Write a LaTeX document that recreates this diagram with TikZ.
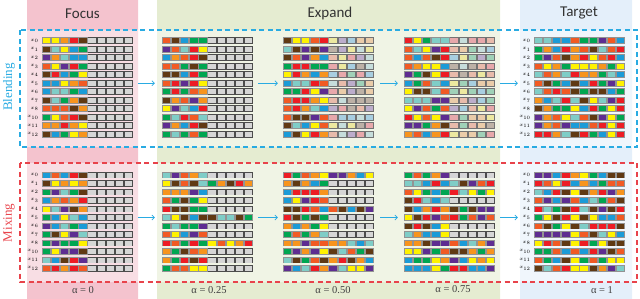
\documentclass[tikz,border=0pt]{standalone}
\usepackage{fontspec}
\setmainfont{Liberation Serif}
\newfontfamily\headfont{Carlito}
\usetikzlibrary{positioning,arrows.meta,calc}
\definecolor{pal0}{HTML}{1B9BD7}
\definecolor{pal1}{HTML}{7FCDC7}
\definecolor{pal2}{HTML}{F7941D}
\definecolor{pal3}{HTML}{FFF200}
\definecolor{pal4}{HTML}{5E2D91}
\definecolor{pal5}{HTML}{ED1C24}
\definecolor{pal6}{HTML}{00A651}
\definecolor{pal7}{HTML}{603913}
\definecolor{pal8}{HTML}{F15A24}
\definecolor{blendcol} {HTML}{29ABE2}
\definecolor{mixcol}   {HTML}{E8434B}
\definecolor{focustop} {HTML}{F4C3CE}
\definecolor{focusmid} {HTML}{FAE3E8}
\definecolor{expandtop}{HTML}{E5ECD1}
\definecolor{expandmid}{HTML}{F4F7EA}
\definecolor{targettop}{HTML}{E4EFFA}
\definecolor{targetmid}{HTML}{F1F7FD}
% one column of token bars: name, left x, top y, mask mode, counts
\newcommand\barcolumn[5]{%
  \foreach \n [count=\rw from 0] in {#5}{
    \pgfmathsetmacro\yy{#3+8.5*\rw}
    \node[barnode] (#1-\rw) at (#2+45.5,\yy) {};
    \foreach \i in {0,...,9}{
      \pgfmathrandominteger{\k}{0}{8}
      \ifnum\i<\n
        \fill[cellframe] (#2+9.1*\i,\yy-3.4) rectangle ++(9.1,6.8);
        \fill[pal\k] (#2+9.1*\i+0.9,\yy-2.5) rectangle ++(7.3,5);
      \else
        \ifnum#4=0
          \fill[maskframe] (#2+9.1*\i,\yy-3.4) rectangle ++(9.1,6.8);
          \fill[maskcell] (#2+9.1*\i+0.9,\yy-2.5) rectangle ++(7.3,5);
        \else
          \fill[tintframe] (#2+9.1*\i,\yy-3.4) rectangle ++(9.1,6.8);
          \fill[pal\k!35!white!85!gray] (#2+9.1*\i+0.9,\yy-2.5) rectangle ++(7.3,5);
        \fi
      \fi
    }
  }}
\begin{document}
\begin{tikzpicture}[x=1pt,y=-1pt,
  barnode/.style={minimum width=91pt,minimum height=7pt,inner sep=0pt},
  cellframe/.style={fill=gray!85},
  maskframe/.style={fill=black!70},
  maskcell/.style={fill=black!16},
  tintframe/.style={fill=black!55},
  rowlab/.style={font=\fontsize{5}{5}\selectfont,inner sep=0pt},
  headtxt/.style={font=\headfont\fontsize{15}{15}\selectfont,text=black!80},
  alphatxt/.style={font=\fontsize{10.5}{10.5}\selectfont,text=black!75},
  blendbox/.style={draw=blendcol,line width=1.1pt,dash pattern=on 5pt off 3.5pt,
                   fill=white,fill opacity=0.45},
  mixbox/.style={draw=mixcol,line width=1.1pt,dash pattern=on 5pt off 3.5pt,
                 fill=white,fill opacity=0.45},
  arr/.style={-{Straight Barb[length=2.5pt]},draw=blendcol,line width=0.7pt},
]
\useasboundingbox (0,0) rectangle (640,298);
\pgfmathsetseed{11}
% column bands
\shade[top color=focustop,middle color=focusmid,bottom color=focustop]
  (27,0) rectangle (138,298);
\shade[top color=expandtop,middle color=expandmid,bottom color=expandtop]
  (157,0) rectangle (500,298);
\shade[top color=targettop,middle color=targetmid,bottom color=targettop]
  (520,0) rectangle (632,298);
\node[headtxt] (hfocus)  at (82.5,14) {Focus};
\node[headtxt] (hexpand) at (330,13) {Expand};
\node[headtxt] (htarget) at (579,13) {Target};
% dashed panels
\draw[blendbox] (20,30) rectangle (637,147);
\draw[mixbox]   (20,163) rectangle (637,282);
\node[rotate=90,text=blendcol,font=\fontsize{13}{13}\selectfont] (lblend) at (9,87) {Blending};
\node[rotate=90,text=mixcol,font=\fontsize{13}{13}\selectfont] (lmix) at (9,223) {Mixing};
% blending bars
\barcolumn{b1}{42}{40.7}{0}{5,5,5,5,5,5,5,5,5,5,5,5}
\barcolumn{b2}{162}{40.7}{0}{5,5,5,5,5,5,5,5,5,5,5,5}
\barcolumn{b3}{283}{40.7}{1}{5,5,5,5,5,5,5,5,5,5,5,5}
\barcolumn{b4}{404}{40.7}{1}{5,5,5,5,5,5,5,5,5,5,5,5}
\barcolumn{b5}{534}{40.7}{0}{10,10,10,10,10,10,10,10,10,10,10,10}
% mixing bars
\barcolumn{m1}{42}{175}{0}{5,5,5,5,5,5,5,5,5,5,5,5}
\barcolumn{m2}{162}{175}{0}{5,10,5,5,5,10,5,5,10,5,5,5}
\barcolumn{m3}{283}{175}{0}{10,5,5,5,10,5,5,5,10,10,10,10}
\barcolumn{m4}{404}{175}{0}{5,10,10,5,10,10,5,5,10,10,10,10}
\barcolumn{m5}{534}{175}{0}{10,10,10,10,10,10,10,10,10,10,10,10}
% row labels
\foreach \p in {b1,b5,m1,m5}{
  \foreach \t [count=\rw from 0] in {0,1,2,3,4,5,6,7,8,10,11,12}
    \node[rowlab,left=3pt of \p-\rw] (\p-lab\rw) {$x_{\t}$};
}
% arrows
\foreach \p in {b,m}{
  \draw[arr,shorten <=5pt,shorten >=7pt] (\p1-5.east) -- (\p2-5.west);
  \draw[arr,shorten <=5pt,shorten >=5pt] (\p2-5.east) -- (\p3-5.west);
  \draw[arr,shorten <=6pt,shorten >=6pt] (\p3-5.east) -- (\p4-5.west);
  \draw[arr,shorten <=5pt,shorten >=16pt] (\p4-5.east) -- (\p5-5.west);
}
% alpha values
\node[alphatxt] (a0)   at (83,290)  {α = 0};
\node[alphatxt] (a25)  at (209,290) {α = 0.25};
\node[alphatxt] (a50)  at (333,290) {α = 0.50};
\node[alphatxt] (a75)  at (453,289) {α = 0.75};
\node[alphatxt] (a100) at (602,290) {α = 1};
\end{tikzpicture}
\end{document}
